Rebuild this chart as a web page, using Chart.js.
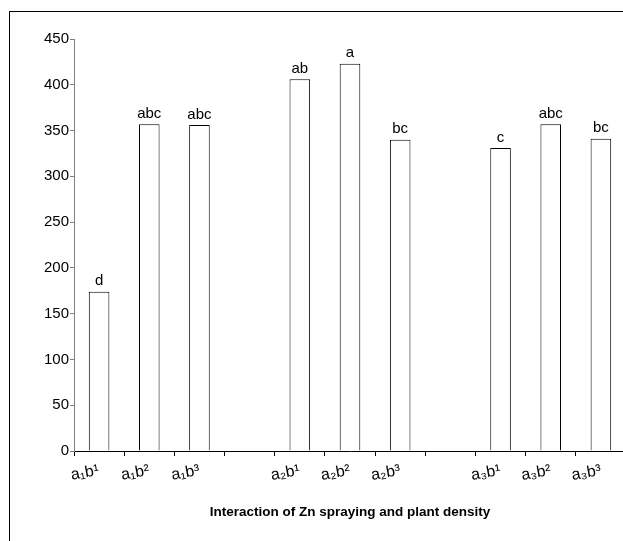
<!DOCTYPE html>
<html>
<head>
<meta charset="utf-8">
<title>Interaction of Zn spraying and plant density</title>
<script src="https://cdn.jsdelivr.net/npm/chart.js@4.4.1/dist/chart.umd.min.js"></script>
<style>
    html, body { margin: 0; padding: 0; background: #fff; overflow: hidden; }
    #wrap { position: relative; width: 623px; height: 541px; overflow: hidden; }
    #frame { position: absolute; left: 9px; top: 11px; width: 700px; height: 600px; border: 1px solid #000; }
    #barChart { position: absolute; left: 0; top: 0; }
</style>
</head>
<body>
<div id="wrap">
    <div id="frame"></div>
    <canvas id="barChart" width="628" height="541"></canvas>
</div>
<script>
// Categorías (las vacías separan los grupos a1, a2, a3)
const categories = [
    'a₁b¹', 'a₁b²', 'a₁b³', '',
    'a₂b¹', 'a₂b²', 'a₂b³', '',
    'a₃b¹', 'a₃b²', 'a₃b³'
];

// Valores
const values = [174, 357, 356, null, 406, 423, 340, null, 331, 357, 341];

// Letras de comparación de medias
const letters = ['d', 'abc', 'abc', '', 'ab', 'a', 'bc', '', 'c', 'abc', 'bc'];

// Marcas del eje Y
const yTicks = [0, 50, 100, 150, 200, 250, 300, 350, 400, 450];

const FONT = '"Liberation Sans", Arial, sans-serif';

// Dibuja las letras encima de cada barra
const letterPlugin = {
    id: 'letters',
    afterDatasetsDraw(chart) {
        const ctx = chart.ctx;
        const meta = chart.getDatasetMeta(0);
        ctx.save();
        ctx.font = '15px ' + FONT;
        ctx.fillStyle = '#000';
        ctx.textAlign = 'center';
        ctx.textBaseline = 'bottom';
        meta.data.forEach((bar, i) => {
            if (letters[i] && values[i] != null) {
                ctx.fillText(letters[i], bar.x, bar.y - 3);
            }
        });
        ctx.restore();
    }
};

const config = {
    type: 'bar',
    data: {
        labels: categories,
        datasets: [{
            data: values,
            backgroundColor: '#ffffff',
            borderColor: '#000000',
            borderWidth: 1,
            barPercentage: 0.41,
            categoryPercentage: 1.0
        }]
    },
    options: {
        responsive: false,
        animation: false,
        layout: {
            padding: { top: 39, right: 2, bottom: 17, left: 0 }
        },
        plugins: {
            legend: { display: false },
            tooltip: { enabled: false }
        },
        scales: {
            x: {
                grid: {
                    display: true,
                    drawOnChartArea: false,
                    drawTicks: true,
                    tickLength: 5,
                    color: '#000'
                },
                border: { display: true, color: '#000', width: 1 },
                ticks: {
                    color: '#000',
                    font: { family: FONT, size: 16 },
                    minRotation: 10,
                    maxRotation: 10,
                    autoSkip: false,
                    padding: 5
                },
                title: {
                    display: true,
                    text: 'Interaction of Zn spraying and plant density',
                    color: '#000',
                    font: { family: FONT, size: 13.5, weight: 'bold' }
                },
                afterFit(scale) { scale.height = 73; }
            },
            y: {
                min: 0,
                max: 450,
                grid: {
                    display: true,
                    drawOnChartArea: false,
                    drawTicks: true,
                    tickLength: 4,
                    color: '#808080'
                },
                border: { display: true, color: '#808080', width: 1 },
                afterBuildTicks(scale) {
                    scale.ticks = yTicks.map(v => ({ value: v }));
                },
                ticks: {
                    color: '#000',
                    font: { family: FONT, size: 15 },
                    padding: 1
                },
                afterFit(scale) { scale.width = 74; }
            }
        }
    },
    plugins: [letterPlugin]
};

const ctx = document.getElementById('barChart').getContext('2d');
const myChart = new Chart(ctx, config);
</script>
</body>
</html>
